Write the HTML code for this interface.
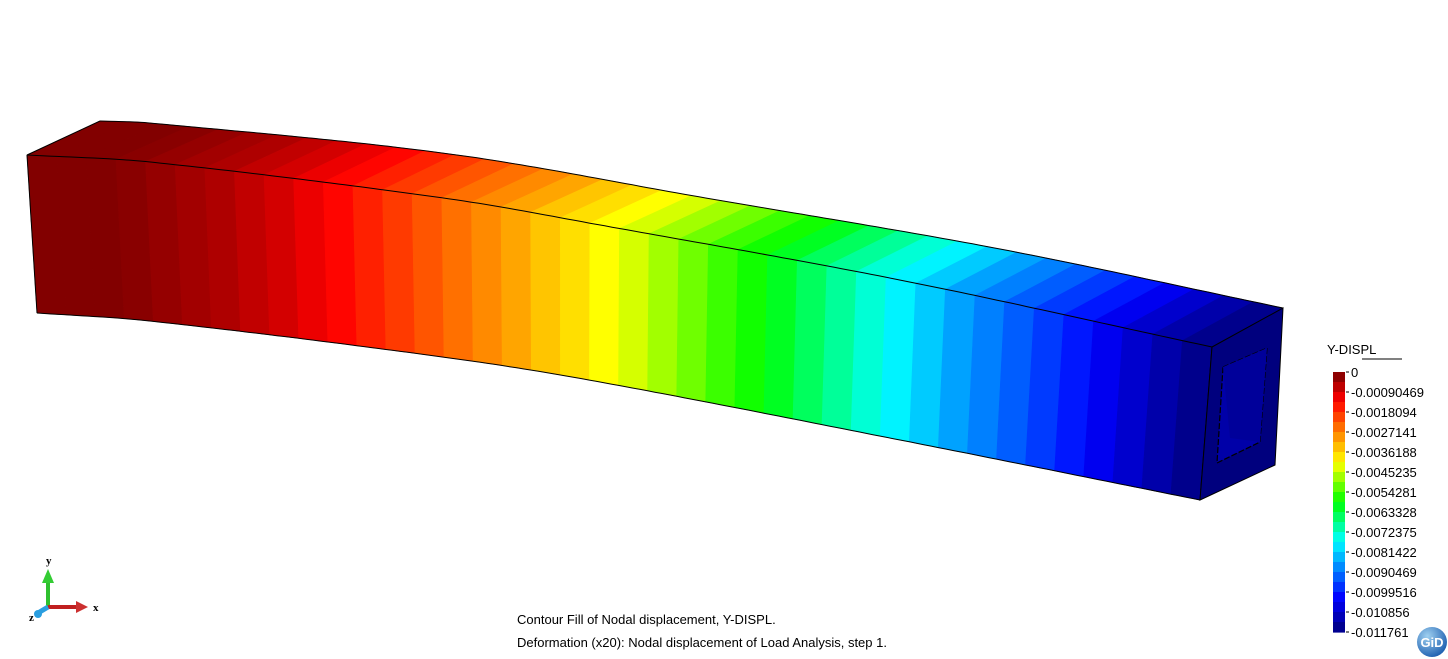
<!DOCTYPE html>
<html><head><meta charset="utf-8"><style>
html,body{margin:0;padding:0;background:#fff;}
svg{display:block;font-family:"Liberation Sans",sans-serif;}
</style></head><body>
<svg id="chart" width="1448" height="659" viewBox="0 0 1448 659" xmlns="http://www.w3.org/2000/svg">
<defs>
<radialGradient id="gidg" cx="35%" cy="30%" r="75%"><stop offset="0" stop-color="#9fd0f0"/><stop offset="1" stop-color="#1d5fb0"/></radialGradient>
</defs>
<g id="beam"></g>
<g id="endface">
<polygon points="1212,347 1283,308 1275,465 1200,500" fill="#00007e" stroke="#000" stroke-width="1"/>
<polygon points="1223,367 1267,348 1260,442 1217,463" fill="#0000a8" stroke="#000" stroke-width="1.2" stroke-dasharray="6,2"/>
<polygon points="1223,367 1267,348 1260,442 1230,438" fill="#00009a"/>
</g>
<g id="legend">
<text x="1327" y="354" font-size="13" fill="#000">Y-DISPL</text>
<line x1="1362" y1="359" x2="1402" y2="359" stroke="#000" stroke-width="1"/>
<g id="legendBar"></g>
</g>
<g>
<line x1="48" y1="607" x2="48" y2="580" stroke="#2ec02e" stroke-width="4"/>
<polygon points="42,583 54,583 48,569" fill="#33cc33"/>
<line x1="48" y1="607" x2="78" y2="607" stroke="#c02020" stroke-width="4"/>
<polygon points="76,601 76,613 88,607" fill="#cc3030"/>
<line x1="48" y1="607" x2="38" y2="613" stroke="#2a9ee0" stroke-width="5"/>
<circle cx="38" cy="614" r="4" fill="#2a9ee0"/>
<text x="46" y="564" font-size="11" font-weight="bold" font-family="Liberation Serif,serif">y</text>
<text x="93" y="611" font-size="11" font-weight="bold" font-family="Liberation Serif,serif">x</text>
<text x="29" y="621" font-size="11" font-weight="bold" font-family="Liberation Serif,serif">z</text>
</g>
<text x="517" y="624" font-size="13" fill="#000">Contour Fill of Nodal displacement, Y-DISPL.</text>
<text x="517" y="647" font-size="13" fill="#000">Deformation (x20): Nodal displacement of Load Analysis, step 1.</text>
<g>
<circle cx="1432" cy="642" r="15" fill="url(#gidg)"/>
<text x="1432" y="647" font-size="13" font-weight="bold" fill="#fff" text-anchor="middle">GiD</text>
</g>
</svg>
<script>
const legendLabels = ["0","-0.00090469","-0.0018094","-0.0027141","-0.0036188","-0.0045235","-0.0054281","-0.0063328","-0.0072375","-0.0081422","-0.0090469","-0.0099516","-0.010856","-0.011761"];
const minVal = -0.011761;
const stripDispl = [-0.000118,-0.000118,-0.000118,-0.000176,-0.000294,-0.000412,-0.000529,-0.000706,-0.000882,-0.001117,-0.001353,-0.001647,-0.001941,-0.002235,-0.002529,-0.002823,-0.003117,-0.00347,-0.003764,-0.004116,-0.00441,-0.004763,-0.005116,-0.005469,-0.005763,-0.006116,-0.006527,-0.006939,-0.007351,-0.007762,-0.008174,-0.008586,-0.008938,-0.009291,-0.009644,-0.009997,-0.010408,-0.01082,-0.011232,-0.011585];

const NS="http://www.w3.org/2000/svg";
const cmap=[[0,[118,0,0]],[0.11,[255,0,0]],[0.35,[255,255,0]],[0.5,[0,255,0]],[0.65,[0,255,255]],[0.87,[0,0,255]],[1,[0,0,125]]];
function cm(v){
  v=Math.max(0,Math.min(1,v));
  for(let i=1;i<cmap.length;i++){
    if(v<=cmap[i][0]){const a=cmap[i-1],b=cmap[i],f=(v-a[0])/(b[0]-a[0]);
      return 'rgb('+[0,1,2].map(k=>Math.round(a[1][k]+(b[1][k]-a[1][k])*f)).join(',')+')';}
  }
  return 'rgb(0,0,125)';
}
function slope(P,i){
  if(i===0)return (P[1][1]-P[0][1])/(P[1][0]-P[0][0]);
  if(i===P.length-1)return (P[i][1]-P[i-1][1])/(P[i][0]-P[i-1][0]);
  return (P[i+1][1]-P[i-1][1])/(P[i+1][0]-P[i-1][0]);
}
function sp(P,x){
  for(let i=1;i<P.length;i++){
    if(x<=P[i][0]||i===P.length-1){
      const a=P[i-1],b=P[i],h=b[0]-a[0],s=(x-a[0])/h;
      const m0=slope(P,i-1)*h,m1=slope(P,i)*h;
      const h00=2*s*s*s-3*s*s+1,h10=s*s*s-2*s*s+s,h01=-2*s*s*s+3*s*s,h11=s*s*s-s*s;
      return h00*a[1]+h10*m0+h01*b[1]+h11*m1;
    }
  }
}
const topFront=[[27,155],[150,162],[450,199],[600,225],[900,280],[1212,347]];
const topBack=[[100,121],[150,123],[450,154],[700,197],[1000,249],[1283,308]];
const botFront=[[37,313],[150,321],[450,358],[600,382],[900,440],[1200,500]];
const F=t=>{const x=27+1185*t;return [x,sp(topFront,x)];};
const B=t=>{const x=100+1183*t;return [x,sp(topBack,x)];};
const L=t=>{const x=37+1163*t;return [x,sp(botFront,x)];};
const beam=document.getElementById('beam');
const n=stripDispl.length;
function seg(fn,t0,t1){const r=[];for(let k=0;k<=4;k++)r.push(fn(t0+(t1-t0)*k/4));return r;}
function poly(pts,fill,name){
  const p=document.createElementNS(NS,'polygon');
  p.setAttribute('points',pts.map(q=>q[0].toFixed(1)+','+q[1].toFixed(1)).join(' '));
  p.setAttribute('fill',fill);p.setAttribute('stroke',fill);p.setAttribute('stroke-width','0.6');
  
  
  beam.appendChild(p);
}
for(let i=0;i<n;i++){
  const t0=i/n,t1=(i+1)/n;
  const col=cm(stripDispl[i]/minVal);
  poly(seg(F,t0,t1).concat(seg(L,t0,t1).reverse()),col,'front-face-strip');
  poly(seg(F,t0,t1).concat(seg(B,t0,t1).reverse()),col,'top-face-strip');
}
function curve(fn){
  let d='';for(let i=0;i<=160;i++){const q=fn(i/160);d+=(i?'L':'M')+q[0].toFixed(1)+' '+q[1].toFixed(1);}
  const p=document.createElementNS(NS,'path');p.setAttribute('d',d);p.setAttribute('fill','none');p.setAttribute('stroke','#000');p.setAttribute('stroke-width','1');
  
  
  beam.appendChild(p);
}
curve(F);curve(B);curve(L);
[[[27,155],[100,121]],[[27,155],[37,313]],[[1212,347],[1200,500]]].forEach(s=>{
  const l=document.createElementNS(NS,'line');
  l.setAttribute('x1',s[0][0]);l.setAttribute('y1',s[0][1]);l.setAttribute('x2',s[1][0]);l.setAttribute('y2',s[1][1]);
  l.setAttribute('stroke','#000');l.setAttribute('stroke-width','1');
  
  
  beam.appendChild(l);
});
const lb=document.getElementById('legendBar');
const barTop=372,barBot=632,nb=26;
for(let i=0;i<nb;i++){
  const r=document.createElementNS(NS,'rect');
  const y0=barTop+(barBot-barTop)*i/nb;
  r.setAttribute('x',1333);r.setAttribute('y',y0.toFixed(1));r.setAttribute('width',12);r.setAttribute('height',((barBot-barTop)/nb+0.6).toFixed(1));
  r.setAttribute('fill',cm((i+0.5)/nb));
  
  
  lb.appendChild(r);
}
legendLabels.forEach((s,i)=>{
  const y=barTop+(barBot-barTop)*i/(legendLabels.length-1);
  const t=document.createElementNS(NS,'text');
  t.setAttribute('x',1351);t.setAttribute('y',(y+5).toFixed(1));t.setAttribute('font-size','13');
  t.textContent=s;
  
  
  lb.appendChild(t);
  const k=document.createElementNS(NS,'line');
  k.setAttribute('x1',1346);k.setAttribute('x2',1349);k.setAttribute('y1',y);k.setAttribute('y2',y);k.setAttribute('stroke','#000');
  
  
  lb.appendChild(k);
});
</script>
</body></html>
